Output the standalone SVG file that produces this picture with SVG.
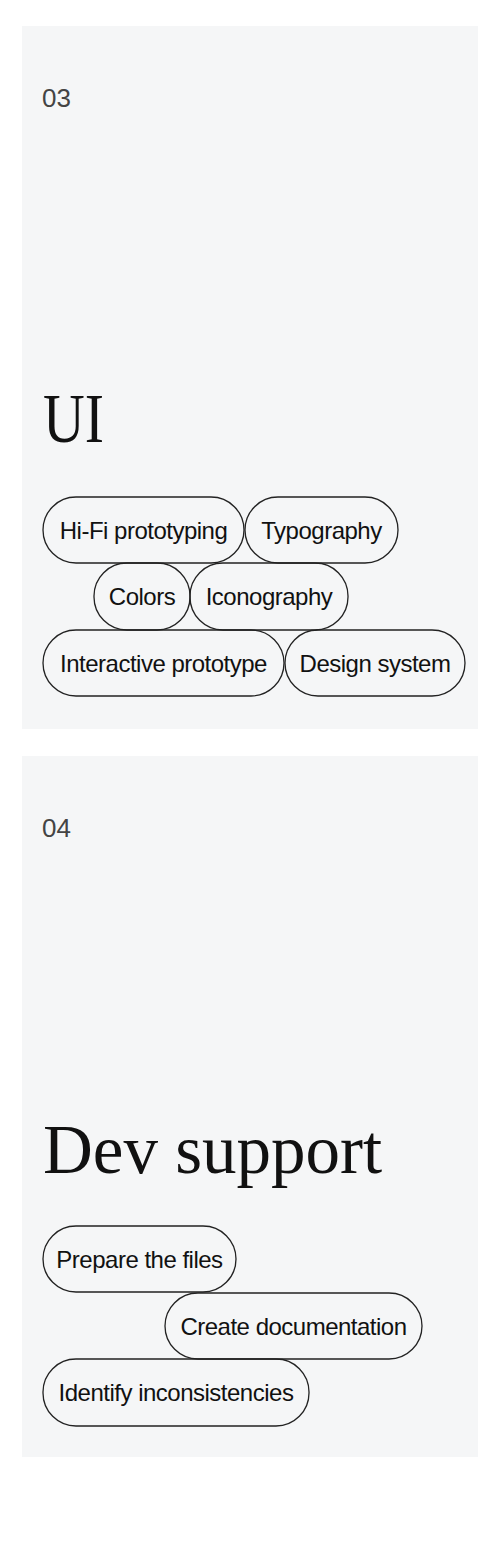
<svg xmlns="http://www.w3.org/2000/svg" width="500" height="1553" viewBox="0 0 500 1553">
<style>
.panel{fill:#f5f6f7}
.num{font-family:"Liberation Sans",Arial,sans-serif;font-size:26px;fill:#444}
.title{font-family:"Liberation Serif","Times New Roman",serif;font-size:69px;fill:#111}
.pill rect{fill:none;stroke:#222;stroke-width:1.3}
.pill text{font-family:"Liberation Sans",Arial,sans-serif;font-size:24px;fill:#111;text-anchor:middle;letter-spacing:-0.5px}
</style>
<rect width="500" height="1553" fill="#fff"/>
<g id="panel-ui">
<rect class="panel" x="22" y="26" width="456" height="703"/>
<text class="num" x="42" y="107">03</text>
<text class="title" x="43" y="442" textLength="61" lengthAdjust="spacingAndGlyphs">UI</text>
</g>
<g id="hifi" class="pill"><rect x="43" y="497" width="201" height="66" rx="33"/><text x="143.5" y="538.5">Hi-Fi prototyping</text></g>
<g id="typography" class="pill"><rect x="245" y="497" width="153" height="66" rx="33"/><text x="321.5" y="538.5">Typography</text></g>
<g id="colors" class="pill"><rect x="94" y="563" width="96" height="67" rx="33"/><text x="142" y="605">Colors</text></g>
<g id="iconography" class="pill"><rect x="190" y="563" width="158" height="67" rx="33"/><text x="269" y="605">Iconography</text></g>
<g id="interactive" class="pill"><rect x="43" y="630" width="241" height="66" rx="33"/><text x="163.5" y="671.5">Interactive prototype</text></g>
<g id="design-system" class="pill"><rect x="285" y="630" width="180" height="66" rx="33"/><text x="375" y="671.5">Design system</text></g>
<g id="panel-dev">
<rect class="panel" x="22" y="756" width="456" height="701"/>
<text class="num" x="42" y="837">04</text>
<text class="title" x="43" y="1173">Dev support</text>
</g>
<g id="prepare" class="pill"><rect x="43" y="1226" width="193" height="66" rx="33"/><text x="139.5" y="1267.5">Prepare the files</text></g>
<g id="documentation" class="pill"><rect x="165" y="1293" width="257" height="66" rx="33"/><text x="293.5" y="1334.5">Create documentation</text></g>
<g id="inconsistencies" class="pill"><rect x="43" y="1359" width="266" height="67" rx="33"/><text x="176" y="1401">Identify inconsistencies</text></g>
<g id="connectors"></g>
</svg>
